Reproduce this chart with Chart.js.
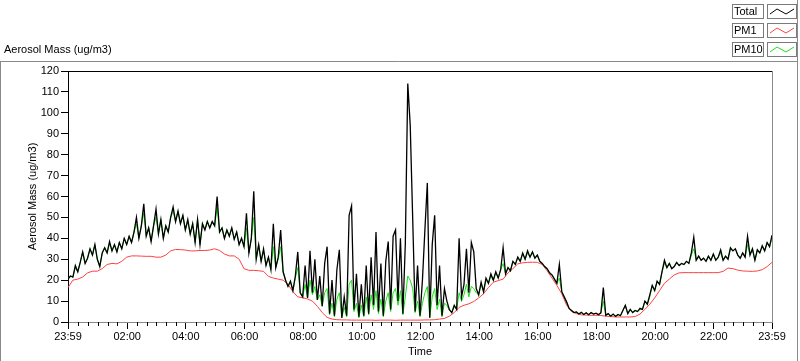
<!DOCTYPE html>
<html>
<head>
<meta charset="utf-8">
<script src="https://cdn.jsdelivr.net/npm/chart.js@4.4.0/dist/chart.umd.min.js"></script>
<style>
  html,body{margin:0;padding:0;background:#fff;overflow:hidden}
  #chart{display:block}
</style>
</head>
<body>
<canvas id="chart" width="800" height="361"></canvas>
<script>
// ================== Data ==================
// time in minutes from midnight, the record starts at 23:59 the day before
const startMin = -1;
const totalStepMin = 5;
const pm1StepMin = 10;

// Total, one value every 5 min (one row per hour)
const totalValues = [
  20.5,22,21.5,27,24,28.5,33.5,28,30.5,35,32,37,
  30,26.5,33,35.5,33,38.5,34,37,33.5,38,35,40,
  37,41,38,43,50,40,46,56.5,41,45,38.5,46,
  54,42,49,40,46,43,50,55,48,53,47,51,
  44,49,42,47,38,49,37,47,44,48,45,48,
  46,60,43,45,40,44,41,45,39.5,43,37,40,
  36,52,33,40,62.5,30,37,29,35,27,31,25,
  47,26,31,44,24,20,17,19.5,15,22,33.5,14,
  12,27,11.5,34,14,30,10.5,22,7.5,28,36,4,
  20,3,25,34.5,2,12,3,51,55.5,6,23,2.5,
  18,3,27,4,31,8,43,5,28,3,29,38.5,
  6,41,44,10,40,4,37.5,114,94,50,5,27,
  3,20,44,66.5,2,37,51,8,27,3,16,10,
  6,4.5,8,6,40,12,18,35,14,38,33.5,16,
  13,19,14.5,21,18.5,23,20,24,21,25,35.5,23,
  26,24.5,29,27.5,31,29,33,30,34,31,33.5,30.5,
  32,29,28,26.5,25.5,23.5,22.5,20.5,18.5,27.5,14.5,12,
  9.5,6.5,5.5,4.5,4.8,3.8,4.6,3.6,4.4,3.5,4.5,3.8,
  4.2,3.5,4.4,16.5,3.2,4,2.8,3.8,2.7,3.6,3,5.5,
  8,4,6,4.5,5.5,5,6.5,6,10,8.5,13,17.5,
  15,19.5,18,24,29.5,26,28,25.5,26.5,28.5,27,28,
  27.5,29,28,33,40.5,29.5,31.5,29.5,30.5,29,31.5,29.5,
  32.5,29.5,31,34.5,29.5,31.5,30,35.5,34,35,32,30.5,
  33,31,41,32,35,29.5,34.5,33,36.5,34,38,36,
  41.5
];

// PM10, same 5 min grid
const pm10Values = [
  20.5,22,21.5,26,24,28.5,33.5,28,30.5,35,32,37,
  30,26.5,33,35.5,33,37.5,34,37,33.5,38,35,40,
  37,41,38,43,47,40,46,52,41,45,38.5,46,
  50,42,49,40,46,43,50,53,48,53,47,51,
  44,48,42,47,38,49,37,47,44,48,45,48,
  46,55,43,45,40,44,41,45,39.5,43,37,40,
  36,45,33,40,50,30,37,29,34,27,31,25,
  36,26,30,36,24,20,17,19.5,15,21,26,14,
  12,18,11.5,20,13,17,10.5,13,7.5,14,16,3.5,
  9,2.5,11,14,2,7,2.5,18,20,5,9,2,
  8,2.5,12,3.5,13,6,15,4,11,2.5,10,14,
  5,14,16,8,15,3.5,12,22,20,16,4.5,10,
  2.5,9,14,17,2,12,16,6,11,2.5,9,8,
  5.5,4.5,7.5,6,14,10,13,18,12,17,16,14,
  13,18,14.5,20,18.5,22,20,23.5,21,25,28,23,
  26,24.5,29,27.5,31,29,32.5,30,33,31,33.5,30.5,
  32,29,28,26.5,25.5,23.5,22.5,20.5,18.5,21,14.5,12,
  9.5,6.5,5.5,4.5,4.8,3.8,4.6,3.6,4.4,3.5,4.5,3.8,
  4.2,3.5,4.4,10,3.2,4,2.8,3.8,2.7,3.6,3,5.5,
  8,4,6,4.5,5.5,5,6,6,10,8.5,12,17.5,
  15,19.5,18,24,28,26,28,25.5,26.5,28.5,27,28,
  27.5,29,28,32,35,29.5,31.5,29.5,30.5,29,31.5,29.5,
  32.5,29.5,31,33,29.5,31.5,30,35,34,35,32,30.5,
  33,31,37,32,35,29.5,34.5,33,36,34,38,36,
  40
];

// PM1, one value every 10 min
const pm1Values = [
  16.5,20,20.5,21.5,23.5,24.3,
  24.3,25.5,27.5,28,27.8,29,
  31,31.6,31.6,31.5,31.4,31.4,
  31,31,32,34,34.7,34.6,
  34.4,34,34,34.2,34.2,34.4,
  35,34.2,32.5,31.6,31.6,30,
  25.5,24.7,24.7,24.5,24.2,21.8,
  21,20.5,20,18,14.5,12,
  11.6,11,10,7.5,4.5,2.2,
  1.4,1.1,1,1,0.9,0.9,
  0.9,0.9,0.9,0.8,0.9,0.9,
  0.9,0.8,0.9,0.9,0.9,0.9,
  0.9,1,1,1.1,1.4,1.7,
  2.8,4.5,7,8,8.7,9.8,
  11.5,13.5,16.5,19,19.8,20.5,
  23.5,25.5,27.8,28.3,28.5,28.6,
  28.5,27.5,24.5,21,17.5,13.5,
  8,5,4,3.4,3.3,3.2,
  3.2,3.1,2.8,2.6,2.4,2.4,
  2.4,2.4,2.6,3.8,6,8.5,
  11.5,15,18.5,20.5,22.5,23.5,
  23.6,23.6,23.6,23.6,23.6,23.6,
  23.6,23.6,24.2,25.8,25.5,24.8,
  24.4,24.3,24.2,24.4,25,26.5,
  28.5
];

const seriesNames = ['Total', 'PM1', 'PM10'];
const seriesColors = ['#000000', '#ff4040', '#19e019'];

const xTickMinutes = [-1,120,240,360,480,600,720,840,960,1080,1200,1320,1439];
const xTickLabels = ['23:59','02:00','04:00','06:00','08:00','10:00','12:00','14:00','16:00','18:00','20:00','22:00','23:59'];
const xMinorMinutes = [];
for(let m=20; m<1439; m+=20){ if(m % 120) xMinorMinutes.push(m); }
const yTickValues = [0,10,20,30,40,50,60,70,80,90,100,110,120];

const yTitle = 'Aerosol Mass (ug/m3)';
const xTitle = 'Time';

// ================== Helpers ==================
const FONT = '"Liberation Sans", Arial, sans-serif';
function toXY(values, step){
  return values.map((v,i)=>({ x: startMin + i*step, y: v }));
}

// frame, minor ticks, top label and legend (LabVIEW style)
const framePlugin = {
  id: 'frame',
  afterDraw(chart){
    const { ctx, chartArea: a, scales } = chart;
    ctx.save();
    ctx.lineWidth = 1;
    // outer grey frame
    ctx.strokeStyle = '#8a8a8a';
    ctx.beginPath();
    ctx.moveTo(0, 61.5); ctx.lineTo(797.5, 61.5);
    ctx.moveTo(0.5, 61); ctx.lineTo(0.5, 361);
    ctx.moveTo(797.5, 0); ctx.lineTo(797.5, 361);
    ctx.stroke();
    // plot frame
    ctx.strokeStyle = '#000';
    ctx.beginPath();
    ctx.moveTo(a.left, Math.round(a.top)+0.5); ctx.lineTo(a.right, Math.round(a.top)+0.5);
    ctx.stroke();
    ctx.strokeStyle = '#8a8a8a';
    ctx.beginPath();
    ctx.moveTo(Math.round(a.right)+0.5, a.top); ctx.lineTo(Math.round(a.right)+0.5, a.bottom);
    ctx.stroke();
    // minor ticks on time axis
    ctx.strokeStyle = '#000';
    ctx.beginPath();
    xMinorMinutes.forEach(m=>{
      const x = Math.round(scales.x.getPixelForValue(m)) + 0.5;
      ctx.moveTo(x, a.bottom); ctx.lineTo(x, a.bottom + 4);
    });
    ctx.stroke();
    // top label
    ctx.fillStyle = '#000';
    ctx.font = '11px ' + FONT;
    ctx.textBaseline = 'middle';
    ctx.textAlign = 'left';
    ctx.fillText(yTitle, 4, 50);
    // legend
    chart.data.datasets.forEach((ds,i)=>{
      const top = 4 + i*19;
      ctx.strokeStyle = '#7a7a7a';
      ctx.strokeRect(732.5, top + 0.5, 31, 14);
      ctx.strokeRect(767.5, top + 0.5, 29, 14);
      ctx.fillStyle = '#000';
      ctx.font = '11px ' + FONT;
      ctx.fillText(ds.label, 734, top + 8);
      ctx.strokeStyle = ds.borderColor;
      ctx.lineWidth = 1;
      ctx.beginPath();
      ctx.moveTo(770, top + 10); ctx.lineTo(777, top + 5);
      ctx.lineTo(786, top + 10); ctx.lineTo(794, top + 5);
      ctx.stroke();
    });
    ctx.restore();
  }
};

// ================== Chart ==================
const ctx = document.getElementById('chart').getContext('2d');
const chart = new Chart(ctx, {
  type: 'line',
  data: {
    datasets: [
      { label: seriesNames[0], data: toXY(totalValues, totalStepMin), borderColor: seriesColors[0], borderWidth: 1.3, order: 0 },
      { label: seriesNames[1], data: toXY(pm1Values, pm1StepMin), borderColor: seriesColors[1], order: 1 },
      { label: seriesNames[2], data: toXY(pm10Values, totalStepMin), borderColor: seriesColors[2], order: 2 },
    ]
  },
  options: {
    responsive: false,
    animation: false,
    devicePixelRatio: 1,
    parsing: false,
    elements: {
      line: { borderWidth: 1, tension: 0, fill: false },
      point: { radius: 0, hoverRadius: 0 }
    },
    layout: { padding: { top: 71, right: 28, left: 0, bottom: 0 } },
    plugins: { legend: { display: false }, tooltip: { enabled: false } },
    scales: {
      x: {
        type: 'linear',
        min: xTickMinutes[0],
        max: xTickMinutes[xTickMinutes.length-1],
        afterBuildTicks: s => { s.ticks = xTickMinutes.map(v=>({ value: v })); },
        afterFit: s => { s.height = 39; },
        ticks: {
          autoSkip: false, maxRotation: 0, padding: 1, color: '#000',
          font: { family: FONT, size: 11 },
          callback: (v, i) => xTickLabels[i]
        },
        grid: { drawOnChartArea: false, drawTicks: true, tickLength: 7, tickColor: '#000' },
        border: { color: '#8a8a8a', width: 1 },
        title: { display: true, text: xTitle, color: '#000', font: { family: FONT, size: 11 }, padding: { top: 0, bottom: 2 } }
      },
      y: {
        min: 0, max: 120,
        afterBuildTicks: s => { s.ticks = yTickValues.map(v=>({ value: v })); },
        afterFit: s => { s.width = 68; },
        ticks: { padding: 2, color: '#000', font: { family: FONT, size: 11 } },
        grid: { drawOnChartArea: false, drawTicks: true, tickLength: 7, tickColor: '#000' },
        border: { color: '#000', width: 1 },
        title: { display: true, text: yTitle, color: '#000', font: { family: FONT, size: 11 }, padding: { top: 26, bottom: 0 } }
      }
    }
  },
  plugins: [framePlugin]
});
</script>
</body>
</html>
